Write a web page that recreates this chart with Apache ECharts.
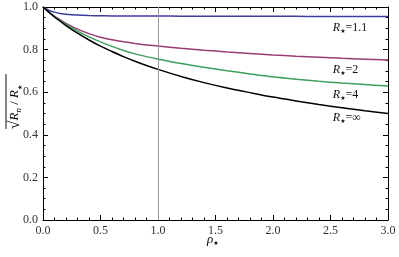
<!DOCTYPE html>
<html><head><meta charset="utf-8">
<script src="https://cdn.jsdelivr.net/npm/echarts@6/dist/echarts.min.js"></script>
<style>html,body{margin:0;padding:0;background:#fff}#c{width:399px;height:257px}</style>
</head><body><div id="c"></div>
<script>
const rho = [0, 0.05, 0.1, 0.15, 0.2, 0.3, 0.4, 0.5, 0.6, 0.7, 0.8, 0.9, 1.0, 1.2, 1.4, 1.6, 1.8, 2.0, 2.2, 2.4, 2.6, 2.8, 3.0];
const r11 = [1, 0.985, 0.976, 0.970, 0.966, 0.962, 0.960, 0.959, 0.958, 0.958, 0.958, 0.958, 0.958, 0.957, 0.957, 0.957, 0.956, 0.956, 0.956, 0.955, 0.955, 0.955, 0.955];
const r2 = [1, 0.977, 0.957, 0.939, 0.923, 0.896, 0.875, 0.858, 0.846, 0.837, 0.829, 0.822, 0.817, 0.806, 0.797, 0.789, 0.782, 0.775, 0.769, 0.764, 0.759, 0.755, 0.751];
const r4 = [1, 0.977, 0.955, 0.936, 0.918, 0.887, 0.860, 0.836, 0.815, 0.796, 0.780, 0.767, 0.756, 0.735, 0.717, 0.701, 0.686, 0.672, 0.661, 0.651, 0.643, 0.636, 0.629];
const rinf = [1, 0.976, 0.953, 0.933, 0.913, 0.877, 0.845, 0.816, 0.791, 0.767, 0.745, 0.725, 0.707, 0.674, 0.645, 0.620, 0.598, 0.577, 0.559, 0.542, 0.527, 0.513, 0.5];
const curveNames = ['1.1', '2', '4', '∞'];
const labelPos = [[2.52, 0.901], [2.52, 0.704], [2.52, 0.587], [2.52, 0.479]];
const vline = 1;
const colors = ['#3d3d9e', '#993d72', '#3da05c', '#000000'];
const F = 'Liberation Serif';
const all = [r11, r2, r4, rinf];
const rich = {
  r: {fontFamily: F, fontStyle: 'italic', fontSize: 12, color: '#111'},
  s: {fontFamily: 'DejaVu Sans', fontSize: 6, color: '#111', verticalAlign: 'bottom', padding: [6, 0, 0, 0]},
  n: {fontFamily: F, fontSize: 12, color: '#111'}
};
const series = all.map((vals, i) => ({
  type: 'line', data: rho.map((x, j) => [x, vals[j]]), smooth: 0.3, symbol: 'none',
  lineStyle: {color: colors[i], width: 1.5}, z: 3,
  markPoint: {symbol: 'circle', symbolSize: 0, data: [{coord: labelPos[i]}],
    label: {show: true, position: 'inside', align: 'left', verticalAlign: 'middle',
      formatter: '{r|R}{s|★}{n|=' + curveNames[i] + '}', rich: rich}}
}));
series[0].markLine = {silent: true, symbol: 'none', label: {show: false},
  lineStyle: {color: '#999', width: 1, type: 'solid'}, data: [{xAxis: vline}]};
const ax = (pos, min, max, intv, split, show) => ({
  type: 'value', position: pos, min: min, max: max, interval: intv,
  axisLine: {show: true, onZero: false, lineStyle: {color: '#000', width: 1}},
  axisTick: {show: true, inside: true, length: 5, lineStyle: {color: '#000'}},
  minorTick: {show: true, splitNumber: split, length: 2.5, lineStyle: {color: '#000'}},
  splitLine: {show: false},
  axisLabel: {show: show, fontFamily: F, fontSize: 12, color: '#333', margin: 5,
    formatter: v => v.toFixed(1)}
});
const chart = echarts.init(document.getElementById('c'));
chart.setOption({
  animation: false,
  grid: {left: 43, right: 11, top: 7, bottom: 37},
  xAxis: [ax('bottom', 0, 3, 0.5, 5, true), ax('top', 0, 3, 0.5, 5, false)],
  yAxis: [ax('left', 0, 1, 0.2, 4, true), ax('right', 0, 1, 0.2, 4, false)],
  series: series,
  graphic: [
    {type: 'text', left: 207, top: 233,
      style: {text: '{p|ρ}{s|★}', rich: {p: {fontFamily: F, fontStyle: 'italic', fontSize: 13, color: '#111'},
        s: {fontFamily: 'DejaVu Sans', fontSize: 6, color: '#111', verticalAlign: 'bottom', padding: [7, 0, 0, 0]}}}},
    {type: 'group', x: 15, y: 107, rotation: Math.PI / 2, children: [
      {type: 'text', x: 0, y: 0, style: {text: '{q|√}{r|R}{t|n}{n| / }{r|R}{s|★}', align: 'center', verticalAlign: 'middle',
        rich: {q: {fontFamily: F, fontSize: 16, color: '#111'},
          r: {fontFamily: F, fontStyle: 'italic', fontSize: 13, color: '#111'},
          t: {fontFamily: F, fontStyle: 'italic', fontSize: 9, color: '#111', verticalAlign: 'bottom', padding: [6, 0, 0, 0]},
          n: {fontFamily: F, fontSize: 13, color: '#111'},
          s: {fontFamily: 'DejaVu Sans', fontSize: 6, color: '#111', verticalAlign: 'bottom', padding: [7, 0, 0, 0]}}}},
      {type: 'line', shape: {x1: -22, y1: -9, x2: 33, y2: -9}, style: {stroke: '#111', lineWidth: 1}}
    ]}
  ]
});
</script></body></html>
